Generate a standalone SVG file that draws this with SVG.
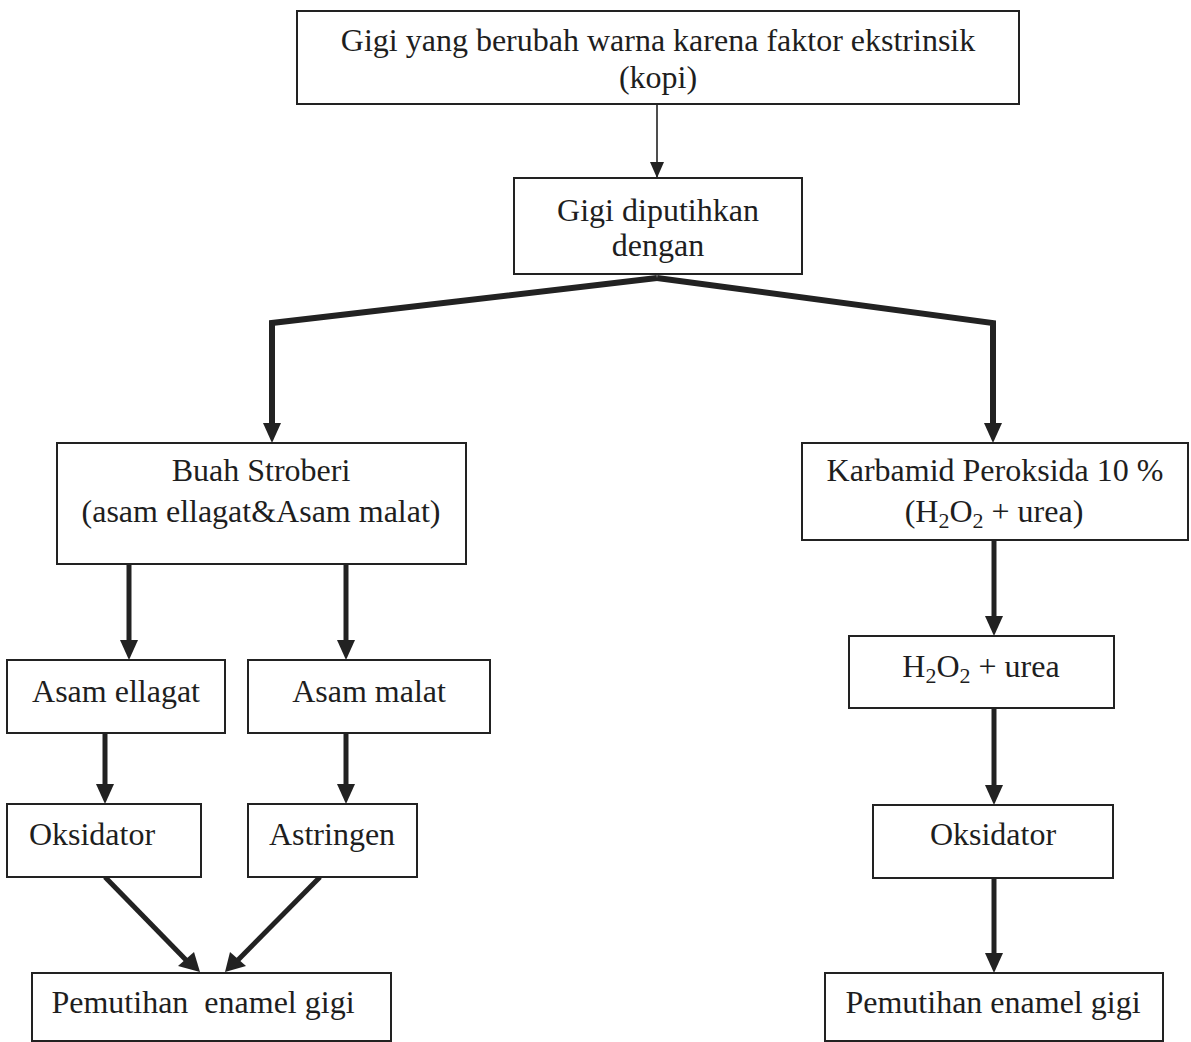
<svg xmlns="http://www.w3.org/2000/svg" width="1191" height="1042" viewBox="0 0 1191 1042">
<style>
.box{fill:#fff;stroke:#222;stroke-width:2}
.t{font-family:"Liberation Serif","Times New Roman",serif;font-size:32px;fill:#1e1e1e;text-anchor:middle}
.thick{fill:none;stroke:#222;stroke-width:5;stroke-linejoin:miter}
.br{fill:none;stroke:#222;stroke-width:6;stroke-linejoin:miter}
.thin{fill:none;stroke:#222;stroke-width:1.6}
.sub{font-size:22px}
</style>
<defs>
<marker id="ahs" markerUnits="userSpaceOnUse" markerWidth="16" markerHeight="14" refX="16" refY="7" orient="auto" viewBox="0 0 16 14">
<path d="M0,0 L16,7 L0,14 Z" fill="#222"/>
</marker>
</defs>
<rect width="1191" height="1042" fill="#fff"/>
<g id="connectors">
<line class="thin" x1="657" y1="105" x2="657" y2="178" marker-end="url(#ahs)"/>
<polyline class="br" points="657,278 272,323 272,425"/>
<path d="M263,423 L281,423 L272,443 Z" fill="#222"/>
<polyline class="br" points="657,278 993,323 993,425"/>
<path d="M984,423 L1002,423 L993,443 Z" fill="#222"/>
<line class="thick" x1="129" y1="564" x2="129" y2="642"/>
<path d="M120,640 L138,640 L129,660 Z" fill="#222"/>
<line class="thick" x1="346" y1="564" x2="346" y2="642"/>
<path d="M337,640 L355,640 L346,660 Z" fill="#222"/>
<line class="thick" x1="105" y1="733" x2="105" y2="786"/>
<path d="M96,784 L114,784 L105,804 Z" fill="#222"/>
<line class="thick" x1="346" y1="733" x2="346" y2="786"/>
<path d="M337,784 L355,784 L346,804 Z" fill="#222"/>
<line class="thick" x1="105" y1="877" x2="186" y2="960"/>
<path d="M178,966 L194,952 L200,972 Z" fill="#222"/>
<line class="thick" x1="320" y1="877" x2="238" y2="960"/>
<path d="M230,952 L246,966 L225,972 Z" fill="#222"/>
<line class="thick" x1="994" y1="540" x2="994" y2="618"/>
<path d="M985,616 L1003,616 L994,636 Z" fill="#222"/>
<line class="thick" x1="994" y1="708" x2="994" y2="787"/>
<path d="M985,785 L1003,785 L994,805 Z" fill="#222"/>
<line class="thick" x1="994" y1="878" x2="994" y2="955"/>
<path d="M985,953 L1003,953 L994,973 Z" fill="#222"/>
</g>
<g id="n1">
<rect class="box" x="297" y="11" width="722" height="93"/>
<text class="t" x="658" y="51">Gigi yang berubah warna karena faktor ekstrinsik</text>
<text class="t" x="658" y="88">(kopi)</text>
</g>
<g id="n2">
<rect class="box" x="514" y="178" width="288" height="96"/>
<text class="t" x="658" y="221">Gigi diputihkan</text>
<text class="t" x="658" y="256">dengan</text>
</g>
<g id="n3">
<rect class="box" x="57" y="443" width="409" height="121"/>
<text class="t" x="261" y="481">Buah Stroberi</text>
<text class="t" x="261" y="522">(asam ellagat&amp;Asam malat)</text>
</g>
<g id="n4">
<rect class="box" x="802" y="443" width="386" height="97"/>
<text class="t" x="995" y="481">Karbamid Peroksida 10 %</text>
<text class="t" x="994" y="522">(H<tspan class="sub" dy="6">2</tspan><tspan dy="-6">O</tspan><tspan class="sub" dy="6">2</tspan><tspan dy="-6"> + urea)</tspan></text>
</g>
<g id="n5">
<rect class="box" x="7" y="660" width="218" height="73"/>
<text class="t" x="116" y="702">Asam ellagat</text>
</g>
<g id="n6">
<rect class="box" x="248" y="660" width="242" height="73"/>
<text class="t" x="369" y="702">Asam malat</text>
</g>
<g id="n7">
<rect class="box" x="7" y="804" width="194" height="73"/>
<text class="t" x="92" y="845">Oksidator</text>
</g>
<g id="n8">
<rect class="box" x="248" y="804" width="169" height="73"/>
<text class="t" x="332" y="845">Astringen</text>
</g>
<g id="n9">
<rect class="box" x="32" y="973" width="359" height="68"/>
<text class="t" x="203" y="1013" style="white-space:pre" xml:space="preserve">Pemutihan  enamel gigi</text>
</g>
<g id="n10">
<rect class="box" x="849" y="636" width="265" height="72"/>
<text class="t" x="981" y="677">H<tspan class="sub" dy="6">2</tspan><tspan dy="-6">O</tspan><tspan class="sub" dy="6">2</tspan><tspan dy="-6"> + urea</tspan></text>
</g>
<g id="n11">
<rect class="box" x="873" y="805" width="240" height="73"/>
<text class="t" x="993" y="845">Oksidator</text>
</g>
<g id="n12">
<rect class="box" x="825" y="973" width="338" height="68"/>
<text class="t" x="993" y="1013">Pemutihan enamel gigi</text>
</g>
</svg>
